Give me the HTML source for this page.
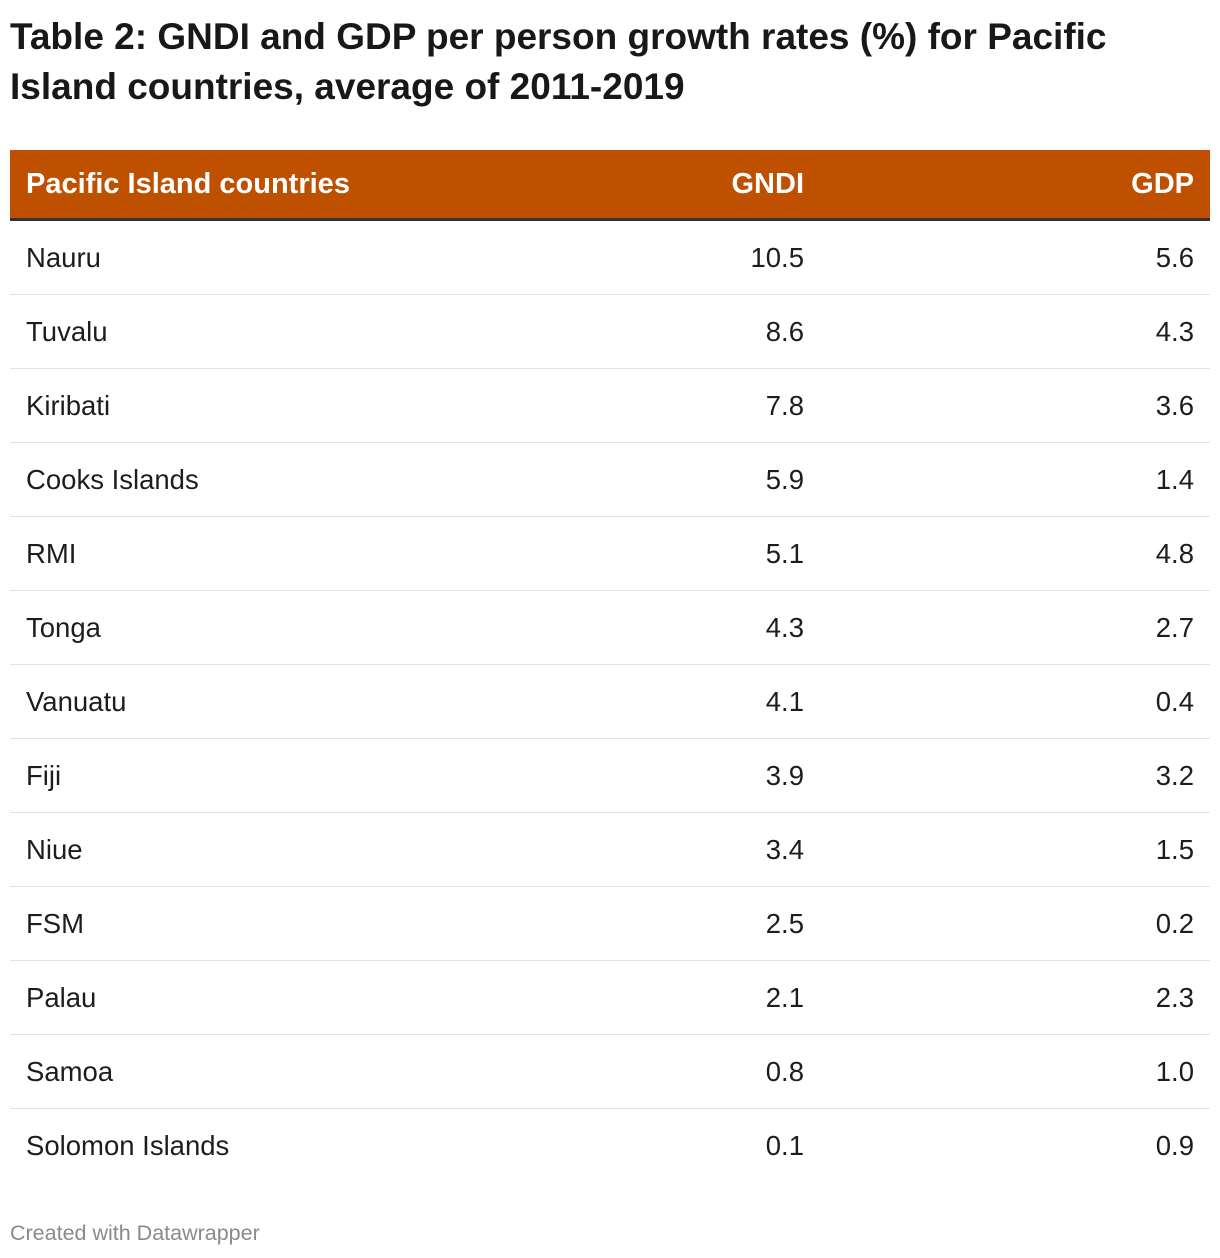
<!DOCTYPE html>
<html><head><meta charset="utf-8">
<style>
body{margin:0;background:#fff;width:1220px;height:1258px;position:relative;font-family:"Liberation Sans",sans-serif;color:#1d1d1d;overflow:hidden}
h1{position:absolute;left:10px;top:12px;margin:0;font-size:37px;line-height:50px;font-weight:bold;color:#181818;white-space:nowrap}
#hdr{position:absolute;left:10px;top:150px;width:1200px;height:68px;background:#bf5000;border-bottom:3px solid #333;color:#fff;font-size:29px;font-weight:bold}
.cell{position:absolute;line-height:68px;white-space:nowrap}
.row{position:absolute;left:10px;width:1200px;height:73px;border-bottom:1px solid #e2e2e2;font-size:27.5px}
.row .cell{line-height:74px}
.c1{left:16px}.c2{right:406px;text-align:right}.c3{right:16px;text-align:right}
#foot{position:absolute;left:10px;top:1221px;font-size:21.5px;color:#8a8a8a}
</style></head><body>
<h1>Table 2: GNDI and GDP per person growth rates (%) for Pacific<br>Island countries, average of 2011-2019</h1>
<div id="hdr">
<div class="cell c1">Pacific Island countries</div>
<div class="cell c2">GNDI</div>
<div class="cell c3">GDP</div>
</div>
<div id="tb"></div>
<div id="foot">Created with Datawrapper</div>
<script>
const countries=["Nauru","Tuvalu","Kiribati","Cooks Islands","RMI","Tonga","Vanuatu","Fiji","Niue","FSM","Palau","Samoa","Solomon Islands"];
const gndi=["10.5","8.6","7.8","5.9","5.1","4.3","4.1","3.9","3.4","2.5","2.1","0.8","0.1"];
const gdp=["5.6","4.3","3.6","1.4","4.8","2.7","0.4","3.2","1.5","0.2","2.3","1.0","0.9"];
const tb=document.getElementById('tb');
countries.forEach((c,i)=>{
 const tr=document.createElement('div');
 tr.className='row';
 tr.style.top=(221+i*74)+'px';
 if(i===countries.length-1)tr.style.borderBottom='none';
 
 
 [[c,'c1','country-cell'],[gndi[i],'c2','gndi-cell'],[gdp[i],'c3','gdp-cell']].forEach(v=>{
  const td=document.createElement('div');
  td.className='cell '+v[1];td.textContent=v[0];
  
  
  tr.appendChild(td);
 });
 tb.appendChild(tr);
});
</script>
</body></html>
